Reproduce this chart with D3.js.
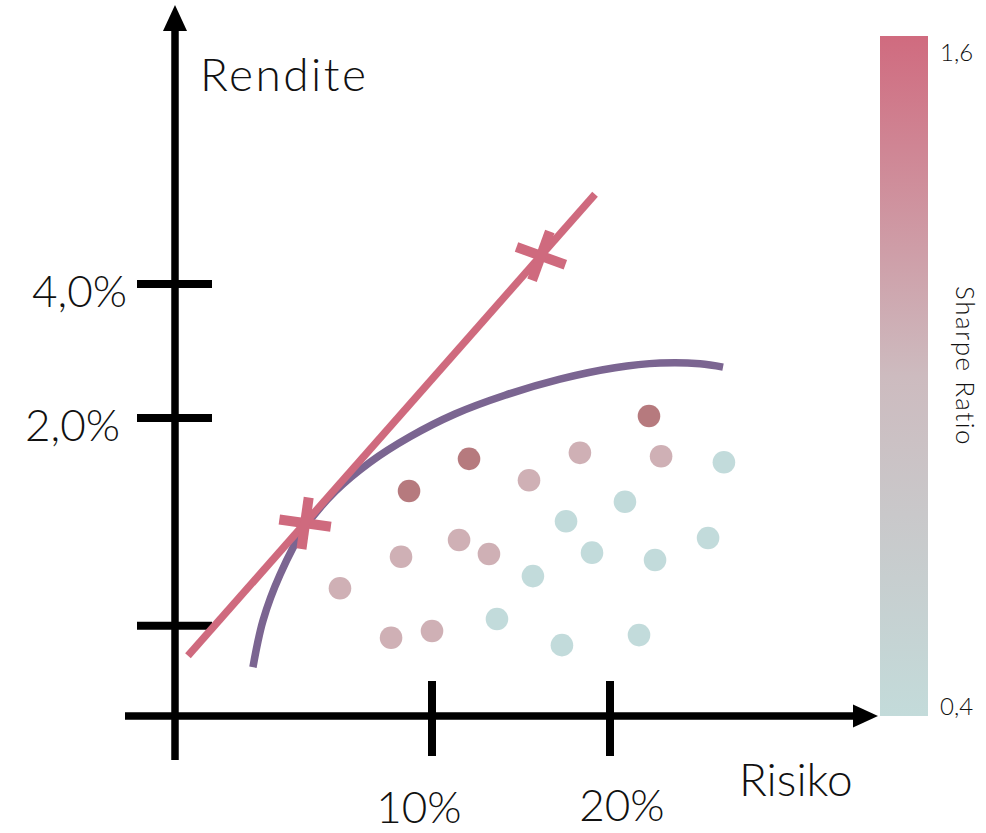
<!DOCTYPE html>
<html><head><meta charset="utf-8">
<script src="https://cdn.jsdelivr.net/npm/d3@7"></script>
<style>
html,body{margin:0;padding:0;background:#fff;}
svg{display:block;}
text{font-family:"Lato","Noto Sans",sans-serif;font-weight:300;fill:#111;}
</style></head>
<body>
<svg id="chart" width="986" height="833"></svg>
<script>
// ---------- data ----------
const portfolioRisk   = [22.19,12.08,8.71,18.31,22.87,26.40,15.45,20.84,17.53,25.51,11.52,13.20,8.26,18.99,22.53,15.67,4.83,13.65,10.00,7.70,21.63,17.30];
const portfolioReturn = [2.03,1.39,0.91,1.48,1.43,1.34,1.07,0.75,0.46,0.21,0.18,-0.03,-0.07,-0.01,-0.12,-0.36,-0.54,-1.00,-1.18,-1.28,-1.24,-1.39];
const portfolioSharpe = [1.5,1.5,1.5,1.0,1.0,0.4,1.0,0.4,0.4,0.4,1.0,1.0,1.0,0.4,0.4,0.4,1.0,0.4,1.0,1.0,0.4,0.4];

const frontierRisk   = [-0.06,0.51,1.46,2.87,4.55,6.52,8.76,11.29,14.10,17.19,20.28,22.81,25.06,26.35];
const frontierReturn = [-1.72,-1.02,-0.34,0.37,0.90,1.34,1.72,2.06,2.34,2.58,2.75,2.82,2.81,2.76];

const cmlRisk   = [-3.71,19.16];
const cmlReturn = [-1.55,5.34];
const markerRisk   = [2.87,16.12];
const markerReturn = [0.43,4.42];

const xTickValues = [10,20];
const xTickLabels = ["10%","20%"];
const yTickValues = [4,2,-1.1];
const yTickLabels = ["4,0%","2,0%",""];
const sharpeDomain = [0.4,1.6];
const sharpeLabels = ["0,4","1,6"];

// ---------- scales ----------
const x = d3.scaleLinear().domain([10,20]).range([432,610]);
const y = d3.scaleLinear().domain([2,4]).range([418,284]);
const xOrigin = x.invert(175), yOrigin = y.invert(716);
const dotColor = d3.scaleLinear().domain([0.4,1.0,1.5]).range(["#c2dbdb","#cfb0b5","#b67a7e"]);
const cbY = d3.scaleLinear().domain(sharpeDomain).range([716,36]);

const svg = d3.select("#chart");
const AX = x(xOrigin), AY = y(yOrigin);

// ---------- colour bar ----------
const defs = svg.append("defs");
const grad = defs.append("linearGradient").attr("id","cb").attr("x1",0).attr("y1",1).attr("x2",0).attr("y2",0);
grad.append("stop").attr("offset","0%").attr("stop-color","#c3dbda");
grad.append("stop").attr("offset","50%").attr("stop-color","#cdbbbf");
grad.append("stop").attr("offset","100%").attr("stop-color","#d06b7f");
svg.append("rect").attr("x",880).attr("width",48)
  .attr("y",cbY(sharpeDomain[1])).attr("height",cbY(sharpeDomain[0])-cbY(sharpeDomain[1]))
  .attr("fill","url(#cb)");
svg.selectAll(".cbl").data(sharpeDomain).join("text")
  .attr("x",940).attr("y",(d,i)=>cbY(d)+(i===0?-1:25))
  .style("font-size","24px").text((d,i)=>sharpeLabels[i]);
svg.append("text").attr("transform",`translate(956,${(cbY(0.4)+cbY(1.6))/2-10}) rotate(90)`)
  .attr("text-anchor","middle").style("font-size","26px").style("letter-spacing","1.5px").text("Sharpe Ratio");

// ---------- axes ----------
const axisG = svg.append("g");
axisG.append("line").attr("x1",AX).attr("x2",AX).attr("y1",28).attr("y2",760)
  .attr("stroke","#000").attr("stroke-width",7.5);
axisG.append("path").attr("d",`M${AX},5 L${AX-12},31 L${AX+12},31 Z`).attr("fill","#000");
axisG.append("line").attr("x1",125).attr("x2",856).attr("y1",AY).attr("y2",AY)
  .attr("stroke","#000").attr("stroke-width",7.5);
axisG.append("path").attr("d",`M878,${AY} L853,${AY-11.5} L853,${AY+11.5} Z`).attr("fill","#000");

axisG.selectAll(".yt").data(yTickValues).join("line")
  .attr("x1",AX-38).attr("x2",AX+37).attr("y1",d=>y(d)).attr("y2",d=>y(d))
  .attr("stroke","#000").attr("stroke-width",8);
axisG.selectAll(".xt").data(xTickValues).join("line")
  .attr("y1",AY-35).attr("y2",AY+40).attr("x1",d=>x(d)).attr("x2",d=>x(d))
  .attr("stroke","#000").attr("stroke-width",8);

axisG.selectAll(".ytl").data(yTickValues).join("text")
  .attr("x",(d,i)=>i===1?120:127).attr("y",d=>y(d)+23).attr("text-anchor","end")
  .style("font-size","44px").text((d,i)=>yTickLabels[i]);
const xNudge = [-13,12], xBase=[823,821];
axisG.selectAll(".xtl").data(xTickValues).join("text")
  .attr("x",(d,i)=>x(d)+xNudge[i]).attr("y",(d,i)=>xBase[i]).attr("text-anchor","middle")
  .style("font-size","44px").text((d,i)=>xTickLabels[i]);

svg.append("text").attr("x",200).attr("y",91).style("font-size","46px").style("letter-spacing","2.5px").text("Rendite");
svg.append("text").attr("x",739).attr("y",796).style("font-size","46px").text("Risiko");

// ---------- portfolios ----------
svg.selectAll(".dot").data(portfolioRisk).join("circle")
  .attr("cx",d=>x(d)).attr("cy",(d,i)=>y(portfolioReturn[i])).attr("r",11.3)
  .attr("fill",(d,i)=>dotColor(portfolioSharpe[i]));

// ---------- efficient frontier ----------
const line = d3.line().x(d=>x(d[0])).y(d=>y(d[1])).curve(d3.curveCatmullRom);
svg.append("path").datum(frontierRisk.map((r,i)=>[r,frontierReturn[i]]))
  .attr("d",line).attr("fill","none").attr("stroke","#7b6591").attr("stroke-width",7.5);

// ---------- capital market line ----------
svg.append("path").datum(cmlRisk.map((r,i)=>[r,cmlReturn[i]]))
  .attr("d",d3.line().x(d=>x(d[0])).y(d=>y(d[1])))
  .attr("fill","none").attr("stroke","#cf6a7e").attr("stroke-width",7.5);

const markerRot = [8,20];
const mk = svg.selectAll(".mk").data(markerRisk).join("g")
  .attr("transform",(d,i)=>`translate(${x(d)},${y(markerReturn[i])}) rotate(${markerRot[i]})`);
mk.append("line").attr("x1",-26).attr("x2",26).attr("y1",0).attr("y2",0)
  .attr("stroke","#cf6a7e").attr("stroke-width",10);
mk.append("line").attr("y1",-26).attr("y2",26).attr("x1",0).attr("x2",0)
  .attr("stroke","#cf6a7e").attr("stroke-width",10);
</script>
</body></html>
